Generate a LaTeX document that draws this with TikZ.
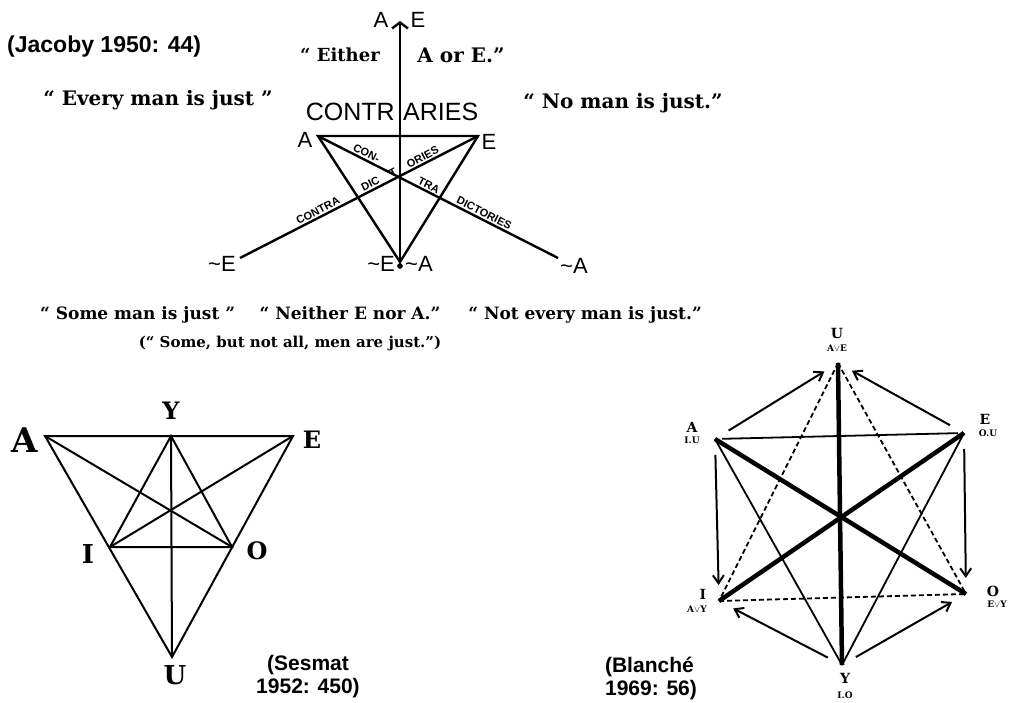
\documentclass[tikz,border=0pt]{standalone}
\usepackage{fontspec}
\setmainfont{DejaVu Serif}
\newfontfamily\refsans{Liberation Sans}
\usetikzlibrary{arrows.meta,positioning,calc}

\tikzset{
  quote/.style={font=\bfseries\fontsize{#1}{#1}\selectfont, inner sep=0pt},
  quote/.default=20,
  reftxt/.style={font=\refsans\bfseries\fontsize{21}{23}\selectfont, inner sep=0pt},
  jlabel/.style={font=\refsans\fontsize{22}{24}\selectfont, inner sep=0pt},
  jline/.style={line width=2.4pt},
  tag/.style={font=\refsans\bfseries\fontsize{11}{12}\selectfont, inner sep=1.5pt, sloped, above},
  sline/.style={line width=2pt},
  slabel/.style={font=\bfseries\fontsize{#1}{#1}\selectfont, inner sep=0pt},
  slabel/.default=26,
  hthin/.style={line width=1.8pt},
  hthick/.style={line width=4.5pt},
  hdash/.style={line width=1.8pt, dash pattern=on 5pt off 3pt},
  harrow/.style={line width=2pt, -{Straight Barb[length=8pt,width=11pt]},
    shorten <=16pt, shorten >=16pt},
  hlabel/.style={font=\bfseries\fontsize{14}{14}\selectfont, inner sep=0pt},
  hsub/.style={font=\bfseries\fontsize{9}{9}\selectfont, inner sep=0pt},
}

\begin{document}
\begin{tikzpicture}[x=1pt, y=-1pt]
  \fill[white] (0,0) rectangle (1010,703);
  \useasboundingbox (0,0) rectangle (1010,703);

  % Jacoby
  \coordinate (jA) at (318,136);
  \coordinate (jE) at (478,136);
  \coordinate (jB) at (400,262);
  \coordinate (jTop) at (400,21);
  \coordinate (jnE) at (240,258);
  \coordinate (jnA) at (558,258);
  \draw[jline] (jA) -- (jE) -- (jB) -- cycle;
  \draw[jline, -{Straight Barb[length=6pt,width=16pt]}] (jB) -- (jTop);
  \draw[jline] (jA) -- (jnA)
    node[tag, pos=.19] (tcon) {CON-}
    node[tag, pos=.45] (ttra) {TRA}
    node[tag, pos=.68] (tdict) {DICTORIES};
  \draw[jline] (jE) -- (jnE)
    node[tag, pos=.22] (tories) {ORIES}
    node[tag, pos=.345] (tt) {T}
    node[tag, pos=.44] (tdic) {DIC}
    node[tag, pos=.66] (tcontra) {CONTRA};

  \node[jlabel] (lA) at (305,140) {A};
  \node[jlabel] (lE) at (489,142) {E};
  \node[jlabel] (topA) at (381,20) {A};
  \node[jlabel] (topE) at (418,20) {E};
  \node[jlabel, font=\refsans\fontsize{25}{27}\selectfont, anchor=east] (contr) at (395,112) {CONTR};
  \node[jlabel, font=\refsans\fontsize{25}{27}\selectfont, anchor=west] (aries) at (403,112) {ARIES};
  \node[jlabel] (nEl) at (222,264) {\textasciitilde E};
  \node[jlabel] (nAl) at (574,266) {\textasciitilde A};
  \node[jlabel, anchor=east] (bnE) at (395,264) {\textasciitilde E};
  \node[jlabel, anchor=west] (bnA) at (405,264) {\textasciitilde A};
  \node[circle, fill, inner sep=2pt] (dot) at (400,266) {};

  \node[reftxt, font=\refsans\bfseries\fontsize{23}{25}\selectfont, anchor=west] (jacoby) at (7,47) {(Jacoby 1950: 44)};
  \node[quote=18] (either) at (340,55) {“ Either};
  \node[quote] (aore) at (461,55) {A or E.”};
  \node[quote] (every) at (158,100) {“ Every man is just ”};
  \node[quote] (noman) at (623,103) {“ No man is just.”};
  \node[quote=17, anchor=base west] (some) at (40,320) {“ Some man is just ”};
  \node[quote=17, anchor=base] (neither) at (350,320) {“ Neither E nor A.”};
  \node[quote=17, anchor=base east] (notevery) at (702,320) {“ Not every man is just.”};
  \node[quote=15, anchor=base] (somebut) at (290,348) {(“ Some, but not all, men are just.”)};

  % Sesmat
  \coordinate (sA) at (45,436);
  \coordinate (sE) at (293,436);
  \coordinate (sY) at (171,436);
  \coordinate (sI) at (110,547);
  \coordinate (sO) at (232,547);
  \coordinate (sU) at (172,657);
  \draw[sline] (sA) -- (sE) -- (sU) -- cycle;
  \draw[sline] (sY) -- (sU);
  \draw[sline] (sY) -- (sI) -- (sO) -- cycle;
  \draw[sline] (sA) -- (sO);
  \draw[sline] (sE) -- (sI);
  \node[slabel=34] (slA) at (25,440) {A};
  \node[slabel=24] (slE) at (312,440) {E};
  \node[slabel=24] (slY) at (171,411) {Y};
  \node[slabel] (slI) at (88,554) {I};
  \node[slabel=24] (slO) at (257,551) {O};
  \node[slabel] (slU) at (175,675) {U};
  \node[reftxt, align=center] (sesmat) at (308,677) {(Sesmat\\1952: 450)};

  % Blanche
  \coordinate (hU) at (838,363);
  \coordinate (hA) at (715,439);
  \coordinate (hE) at (964,433);
  \coordinate (hI) at (719,601);
  \coordinate (hO) at (966,594);
  \coordinate (hY) at (842,665);
  \draw[hthin, shorten <=7pt, shorten >=6pt] (hA) -- (hE);
  \draw[hthin] (hA) -- (hY);
  \draw[hthin] (hE) -- (hY);
  \draw[hthick] (hA) -- (hO);
  \draw[hthick] (hE) -- (hI);
  \draw[hthick] (hU) -- (hY);
  \draw[hdash] (hU) -- (hI);
  \draw[hdash] (hU) -- (hO);
  \draw[hdash] (hI) -- (hO);
  \draw[harrow] (hA) -- (hU);
  \draw[harrow] (hE) -- (hU);
  \draw[harrow] (hA) -- (hI);
  \draw[harrow] (hE) -- (hO);
  \draw[harrow] (hY) -- (hI);
  \draw[harrow] (hY) -- (hO);
  \node[hlabel] (lhU) at (837,333) {U};
  \node[hsub] (shU) at (837,348) {A$\vee$E};
  \node[hlabel] (lhA) at (692,427) {A};
  \node[hsub] (shA) at (692,440) {I.U};
  \node[hlabel] (lhE) at (985,419) {E};
  \node[hsub] (shE) at (988,433) {O.U};
  \node[hlabel] (lhI) at (703,594) {I};
  \node[hsub] (shI) at (697,609) {A$\vee$Y};
  \node[hlabel] (lhO) at (993,591) {O};
  \node[hsub] (shO) at (997,604) {E$\vee$Y};
  \node[hlabel] (lhY) at (845,678) {Y};
  \node[hsub] (shY) at (845,695) {I.O};
  \node[reftxt, align=left] (blanche) at (651,678) {(Blanché\\1969: 56)};
\end{tikzpicture}
\end{document}
